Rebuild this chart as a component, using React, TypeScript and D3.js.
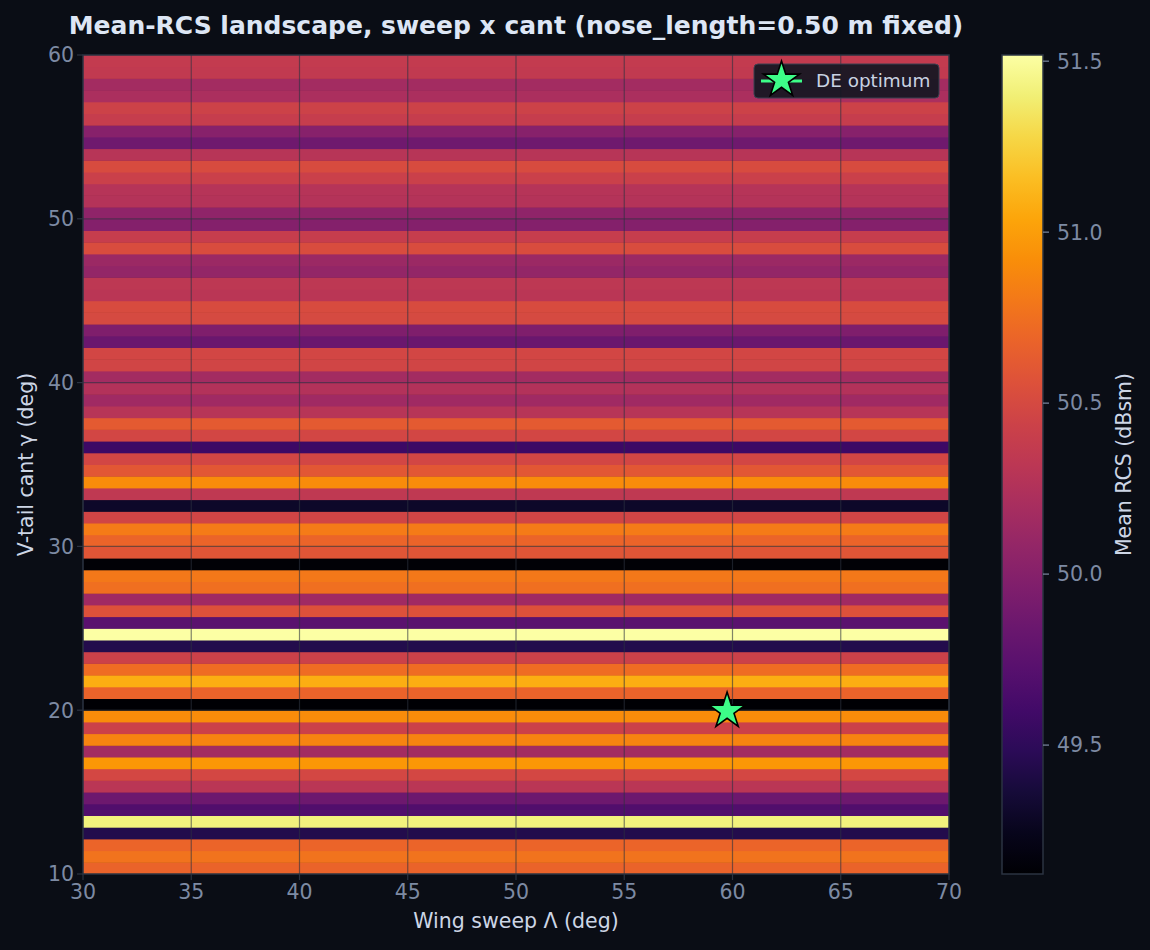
import React, { useMemo } from "react";
import * as d3 from "d3";

const W = 1150;
const H = 950;

// mean RCS (dBsm) per cant row, bottom row (cant = 10 deg) first, top row (60 deg) last
const meanRcsByCant = [
  50.68, 50.776, 50.692, 49.434, 51.422, 49.686, 49.853, 50.32, 50.488, 50.967,
  50.177, 50.871, 50.428, 50.919, 49.123, 50.68, 51.087, 50.74, 50.428, 49.434,
  51.518, 49.746, 50.56, 50.153, 50.752, 50.8, 49.147, 50.584, 50.692, 50.823,
  50.464, 49.3, 50.344, 50.919, 50.608, 50.476, 49.578, 50.476, 50.62, 50.297,
  50.153, 50.273, 50.177, 50.47, 50.476, 49.842, 49.961, 50.5, 50.512, 50.32,
  50.332, 50.081, 50.129, 50.524, 50.392, 49.985, 50.057, 50.28, 50.285, 50.416,
  50.512, 50.297, 49.865, 50.009, 50.392, 50.44, 50.225, 50.177, 50.36, 50.368,
];

const sweepDomain: [number, number] = [30, 70];
const cantDomain: [number, number] = [10, 60];
const sweepTicks = [30, 35, 40, 45, 50, 55, 60, 65, 70];
const cantTicks = [10, 20, 30, 40, 50, 60];
const cbarTicks = [49.5, 50.0, 50.5, 51.0, 51.5];
const optimum = { sweep: 59.75, cant: 19.95, label: "DE optimum" };

const plot = { left: 83, right: 949, top: 55, bottom: 874 };
const cbar = { left: 1002, right: 1043 };

const BG = "#0a0d15";
const FRAME = "#2b3341";
const TICK_TEXT = "#7d8aa3";
const LABEL = "#cdd6e6";
const FONT = "DejaVu Sans, sans-serif";

function starPath(cx: number, cy: number, r: number) {
  const inner = r * 0.381966;
  const pts: [number, number][] = [];
  for (let i = 0; i < 10; i++) {
    const a = -Math.PI / 2 + (i * Math.PI) / 5;
    const rr = i % 2 === 0 ? r : inner;
    pts.push([cx + rr * Math.cos(a), cy + rr * Math.sin(a)]);
  }
  return d3.line()(pts) + "Z";
}

export default function App() {
  const x = d3.scaleLinear().domain(sweepDomain).range([plot.left, plot.right]);
  const y = d3.scaleLinear().domain(cantDomain).range([plot.bottom, plot.top]);

  const [vmin, vmax] = d3.extent(meanRcsByCant) as [number, number];
  const color = d3.scaleSequential(d3.interpolateInferno).domain([vmin, vmax]);
  const cy = d3.scaleLinear().domain([vmin, vmax]).range([plot.bottom, plot.top]);

  // rows are evenly spread over the cant extent (imshow-style)
  const rowH = (cantDomain[1] - cantDomain[0]) / meanRcsByCant.length;
  const rows = meanRcsByCant.map((v, i) => ({
    v,
    c0: cantDomain[0] + i * rowH,
    c1: cantDomain[0] + (i + 1) * rowH,
  }));

  const stops = useMemo(() => d3.range(0, 1.0001, 0.05), []);

  const ox = x(optimum.sweep);
  const oy = y(optimum.cant);

  const leg = { x: 754, y: 64, w: 185, h: 34 };

  return (
    <div style={{ position: "fixed", left: 0, top: 0, width: W, height: H, background: BG }}>
      <svg width={W} height={H} style={{ display: "block", fontFamily: FONT }}>
        <defs>
          <linearGradient id="cbar" x1="0" y1="1" x2="0" y2="0">
            {stops.map((t) => (
              <stop key={t} offset={t} stopColor={d3.interpolateInferno(t)} />
            ))}
          </linearGradient>
          <clipPath id="plotclip">
            <rect x={plot.left} y={plot.top} width={plot.right - plot.left} height={plot.bottom - plot.top} />
          </clipPath>
        </defs>
        <rect width={W} height={H} fill={BG} />

        {/* heatmap rows */}
        <g clipPath="url(#plotclip)">
          {rows.map((r, i) => (
            <rect
              key={i}
              x={x(sweepDomain[0])}
              y={y(r.c1)}
              width={x(sweepDomain[1]) - x(sweepDomain[0])}
              height={y(r.c0) - y(r.c1) + 0.5}
              fill={color(r.v)}
            />
          ))}
          {/* grid */}
          {sweepTicks.slice(1, -1).map((t) => (
            <line key={"gx" + t} x1={x(t)} x2={x(t)} y1={plot.top} y2={plot.bottom}
              stroke="#2c3240" strokeOpacity={0.6} strokeWidth={1.2} />
          ))}
          {cantTicks.slice(1, -1).map((t) => (
            <line key={"gy" + t} y1={y(t)} y2={y(t)} x1={plot.left} x2={plot.right}
              stroke="#2c3240" strokeOpacity={0.6} strokeWidth={1.2} />
          ))}
        </g>

        {/* frame */}
        <rect x={plot.left} y={plot.top} width={plot.right - plot.left} height={plot.bottom - plot.top}
          fill="none" stroke={FRAME} strokeWidth={1.5} />

        {/* x axis */}
        {sweepTicks.map((t) => (
          <g key={"xt" + t}>
            <line x1={x(t)} x2={x(t)} y1={plot.bottom} y2={plot.bottom + 6} stroke={FRAME} strokeWidth={1.2} />
            <text x={x(t)} y={plot.bottom + 25} textAnchor="middle" fontSize={20.5} fill={TICK_TEXT}>
              {t}
            </text>
          </g>
        ))}
        <text x={(plot.left + plot.right) / 2} y={928} textAnchor="middle" fontSize={20.5} fill={LABEL}>
          Wing sweep Λ (deg)
        </text>

        {/* y axis */}
        {cantTicks.map((t) => (
          <g key={"yt" + t}>
            <line x1={plot.left - 6} x2={plot.left} y1={y(t)} y2={y(t)} stroke={FRAME} strokeWidth={1.2} />
            <text x={plot.left - 9} y={y(t)} dy="0.36em" textAnchor="end" fontSize={20.5} fill={TICK_TEXT}>
              {t}
            </text>
          </g>
        ))}
        <text
          transform={`translate(33,${(plot.top + plot.bottom) / 2}) rotate(-90)`}
          textAnchor="middle"
          fontSize={20.5}
          fill={LABEL}
        >
          V-tail cant γ (deg)
        </text>

        {/* optimum */}
        <path d={starPath(ox, oy, 19)} fill="#3dfc88" stroke="#000" strokeWidth={1.6} strokeLinejoin="miter" />

        {/* legend */}
        <rect x={leg.x} y={leg.y} width={leg.w} height={leg.h} rx={4} fill="#131722" fillOpacity={0.92}
          stroke="#3a4150" strokeWidth={1} />
        <line x1={761} x2={802} y1={81} y2={81} stroke="#3dfc88" strokeWidth={3} />
        <path d={starPath(781.5, 80, 19)} fill="#3dfc88" stroke="#000" strokeWidth={1.6} />
        <text x={816} y={87} fontSize={18.4} fill="#c9d2e2">
          {optimum.label}
        </text>

        {/* title */}
        <text x={(plot.left + plot.right) / 2} y={34} textAnchor="middle" fontSize={25} fontWeight="bold" fill="#dde6f5">
          Mean-RCS landscape, sweep x cant (nose_length=0.50 m fixed)
        </text>

        {/* colorbar */}
        <rect x={cbar.left} y={plot.top} width={cbar.right - cbar.left} height={plot.bottom - plot.top} fill="url(#cbar)" />
        <rect x={cbar.left} y={plot.top} width={cbar.right - cbar.left} height={plot.bottom - plot.top}
          fill="none" stroke={FRAME} strokeWidth={1.5} />
        {cbarTicks.map((t) => (
          <g key={"ct" + t}>
            <line x1={cbar.right} x2={cbar.right + 6} y1={cy(t)} y2={cy(t)} stroke={TICK_TEXT} strokeWidth={1.2} />
            <text x={cbar.right + 14} y={cy(t)} dy="0.36em" fontSize={20.5} fill={TICK_TEXT}>
              {t.toFixed(1)}
            </text>
          </g>
        ))}
        <text
          transform={`translate(1131,${(plot.top + plot.bottom) / 2}) rotate(-90)`}
          textAnchor="middle"
          fontSize={20.5}
          fill={LABEL}
        >
          Mean RCS (dBsm)
        </text>
      </svg>
    </div>
  );
}
